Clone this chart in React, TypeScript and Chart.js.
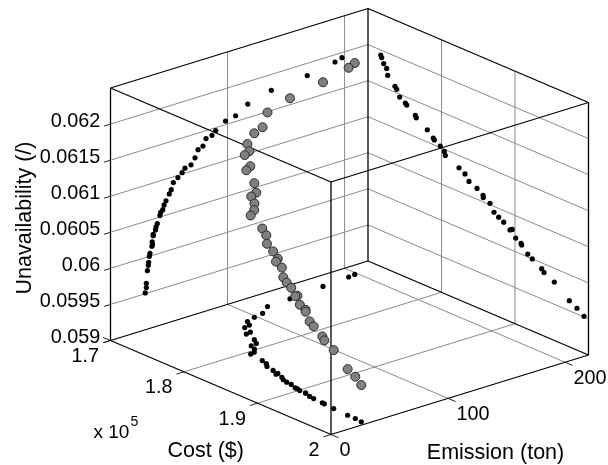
import React, { useEffect, useRef } from "react";
import { Chart, registerables } from "chart.js";

Chart.register(...registerables);

// Values (one entry per solution)
const cost = [
  171730, 171860, 172140, 172540, 172680, 173670, 173910, 174310, 175080, 175270,
  176440, 176570, 178070, 178880, 179020, 179840, 180380, 180520, 182380, 183200,
  183740, 184830, 185650, 185690, 186600, 187140, 187780, 188460, 189620, 189320,
  190090, 190820, 190910, 191730, 192350, 193630, 193950, 195350, 197390, 198430, 199390,
];
const emission = [
  197.8, 191.8, 168.1, 137.4, 117.3, 106.9, 98.3, 89.9, 86.7, 81.6,
  79.0, 74.8, 72.2, 68.8, 63.6, 61.2, 57.6, 53.7, 51.9, 50.2,
  47.4, 45.8, 44.7, 42.9, 42.2, 40.0, 38.9, 38.5, 36.5, 36.5,
  35.6, 35.9, 35.4, 33.7, 33.2, 32.6, 32.3, 31.5, 30.6, 30.6, 29.7,
];
const unavailability = [
  0.06193, 0.06190, 0.06183, 0.06178, 0.06169, 0.06158, 0.06155, 0.06146, 0.06141, 0.06139,
  0.06130, 0.06127, 0.06117, 0.06109, 0.06107, 0.06102, 0.06097, 0.06092, 0.06083, 0.06078,
  0.06070, 0.06065, 0.06059, 0.06056, 0.06052, 0.06042, 0.06038, 0.06034, 0.06029, 0.06027,
  0.06019, 0.06015, 0.06013, 0.06004, 0.06000, 0.05992, 0.05988, 0.05981, 0.05964, 0.05958, 0.05951,
];

const costTicks = [170000, 180000, 190000, 200000];
const costLabels = ["1.7", "1.8", "1.9", "2"];
const emissionTicks = [0, 100, 200];
const emissionLabels = ["0", "100", "200"];
const unavailTicks = [0.059, 0.0595, 0.06, 0.0605, 0.061, 0.0615, 0.062];
const unavailLabels = ["0.059", "0.0595", "0.06", "0.0605", "0.061", "0.0615", "0.062"];

const costRange = [170000, 200000];
const emissionRange = [0, 220];
const unavailRange = [0.059, 0.0625];

const FONT = '"Liberation Sans", Arial, sans-serif';
const GRID = "#8a8a8a";
const TICK_SIZE = 19.8;
const TITLE_SIZE = 21.5;

// Oblique projection of the 3D box onto the page
function project(c: number, e: number, z: number) {
  const u = (c - costRange[0]) / (costRange[1] - costRange[0]);
  const v = (e - emissionRange[0]) / (emissionRange[1] - emissionRange[0]);
  const w = (z - unavailRange[0]) / (unavailRange[1] - unavailRange[0]);
  return {
    x: 110.5 + 220.5 * u + 257.5 * v,
    y: 340.5 + 94 * u - 79.5 * v - 252.5 * w,
  };
}

type P = { x: number; y: number };
const [c0, c1] = costRange;
const [e0, e1] = emissionRange;
const [z0, z1] = unavailRange;

function seg(a: P, b: P, color: string, width: number, order: number) {
  return {
    type: "scatter" as const,
    data: [a, b],
    showLine: true,
    borderColor: color,
    borderWidth: width,
    pointRadius: 0,
    order,
  };
}

function buildDatasets() {
  const ds: any[] = [];
  const grid = (a: P, b: P) => ds.push(seg(a, b, GRID, 1, 30));
  const box = (a: P, b: P) => ds.push(seg(a, b, "#000000", 1.3, 20));

  // wall and floor grid
  unavailTicks.slice(1).forEach((z) => {
    grid(project(c0, e0, z), project(c0, e1, z));
    grid(project(c0, e1, z), project(c1, e1, z));
  });
  costTicks.slice(1, 3).forEach((c) => {
    grid(project(c, e0, z0), project(c, e1, z0));
    grid(project(c, e1, z0), project(c, e1, z1));
  });
  emissionTicks.slice(1).forEach((e) => {
    grid(project(c0, e, z0), project(c1, e, z0));
    grid(project(c0, e, z0), project(c0, e, z1));
  });

  // box edges
  const corners: [number, number][] = [[c0, e0], [c1, e0], [c1, e1], [c0, e1]];
  corners.forEach(([c, e], i) => {
    const [c2, e2] = corners[(i + 1) % 4];
    box(project(c, e, z0), project(c2, e2, z0));
    box(project(c, e, z1), project(c2, e2, z1));
    box(project(c, e, z0), project(c, e, z1));
  });

  // tick marks
  const stub = (p: P, dx: number, dy: number) =>
    ds.push(seg(p, { x: p.x + dx, y: p.y + dy }, "#222222", 1, 25));
  unavailTicks.forEach((z) => stub(project(c0, e0, z), -6.5, 2));
  stub(project(c0, e0, z0), -7.5, -3);
  costTicks.forEach((c) => stub(project(c, e0, z0), -7.5, 2.3));
  emissionTicks.forEach((e) => stub(project(c1, e, z0), 7.5, 3.2));

  // shadows on the walls and the floor
  const shadow = (label: string, data: P[]) =>
    ds.push({
      type: "scatter" as const,
      label,
      data,
      pointRadius: 2.6,
      pointBackgroundColor: "#000000",
      pointBorderWidth: 0,
      showLine: false,
      order: 10,
    });
  shadow("Cost wall", emission.map((e, i) => project(c0, e, unavailability[i])));
  shadow("Emission wall", cost.map((c, i) => project(c, e1, unavailability[i])));
  shadow("Floor", cost.map((c, i) => project(c, emission[i], z0)));

  // solutions
  ds.push({
    type: "scatter" as const,
    label: "Solutions",
    data: cost.map((c, i) => project(c, emission[i], unavailability[i])),
    pointRadius: 4.5,
    pointBackgroundColor: "#808080",
    pointBorderColor: "#2a2a2a",
    pointBorderWidth: 1,
    showLine: false,
    order: 1,
  });
  return ds;
}

const textPlugin = {
  id: "boxText",
  afterDraw(chart: any) {
    const ctx = chart.ctx as CanvasRenderingContext2D;
    const sx = chart.scales.x;
    const sy = chart.scales.y;
    const put = (s: string, p: P, dx: number, dy: number, align: CanvasTextAlign, size: number) => {
      ctx.font = `${size}px ${FONT}`;
      ctx.textAlign = align;
      ctx.textBaseline = "middle";
      ctx.fillStyle = "#000000";
      ctx.fillText(s, sx.getPixelForValue(p.x) + dx, sy.getPixelForValue(p.y) + dy);
    };
    ctx.save();
    unavailTicks.forEach((z, i) => put(unavailLabels[i], project(c0, e0, z), -10.2, -3, "right", TICK_SIZE));
    costTicks.forEach((c, i) => put(costLabels[i], project(c, e0, z0), -11.5, 16, "right", TICK_SIZE));
    emissionTicks.forEach((e, i) => put(emissionLabels[i], project(c1, e, z0), 8.5, 16, "left", TICK_SIZE));

    const origin = project(c0, e0, z0);
    put("Cost ($)", origin, 95.2, 110.5, "center", TITLE_SIZE);
    const right = project(c1, e1, z0);
    put("Emission (ton)", right, -93, 98.5, "center", TITLE_SIZE);
    put("x 10", origin, -17, 92.3, "left", 19);
    put("5", origin, 20, 82, "left", 14);

    ctx.translate(25, 218);
    ctx.rotate(-Math.PI / 2);
    ctx.font = `${TITLE_SIZE}px ${FONT}`;
    ctx.textAlign = "center";
    ctx.textBaseline = "middle";
    ctx.fillStyle = "#000000";
    ctx.fillText("Unavailability (/)", 0, 0);
    ctx.restore();
  },
};

export default function App() {
  const ref = useRef<HTMLCanvasElement | null>(null);
  useEffect(() => {
    if (!ref.current) return;
    const chart = new Chart(ref.current, {
      type: "scatter",
      data: { datasets: buildDatasets() },
      options: {
        animation: false,
        responsive: false,
        devicePixelRatio: 1,
        layout: { padding: 0, autoPadding: false },
        plugins: { legend: { display: false }, tooltip: { enabled: false }, title: { display: false } },
        scales: {
          x: { type: "linear", display: false, min: 0, max: 608 },
          y: { type: "linear", display: false, min: 0, max: 465, reverse: true },
        },
      },
      plugins: [textPlugin],
    } as any);
    return () => chart.destroy();
  }, []);
  return (
    <div style={{ position: "absolute", left: 0, top: 0, width: 608, height: 465, background: "#fff" }}>
      <canvas ref={ref} width={608} height={465} style={{ display: "block" }} />
    </div>
  );
}
